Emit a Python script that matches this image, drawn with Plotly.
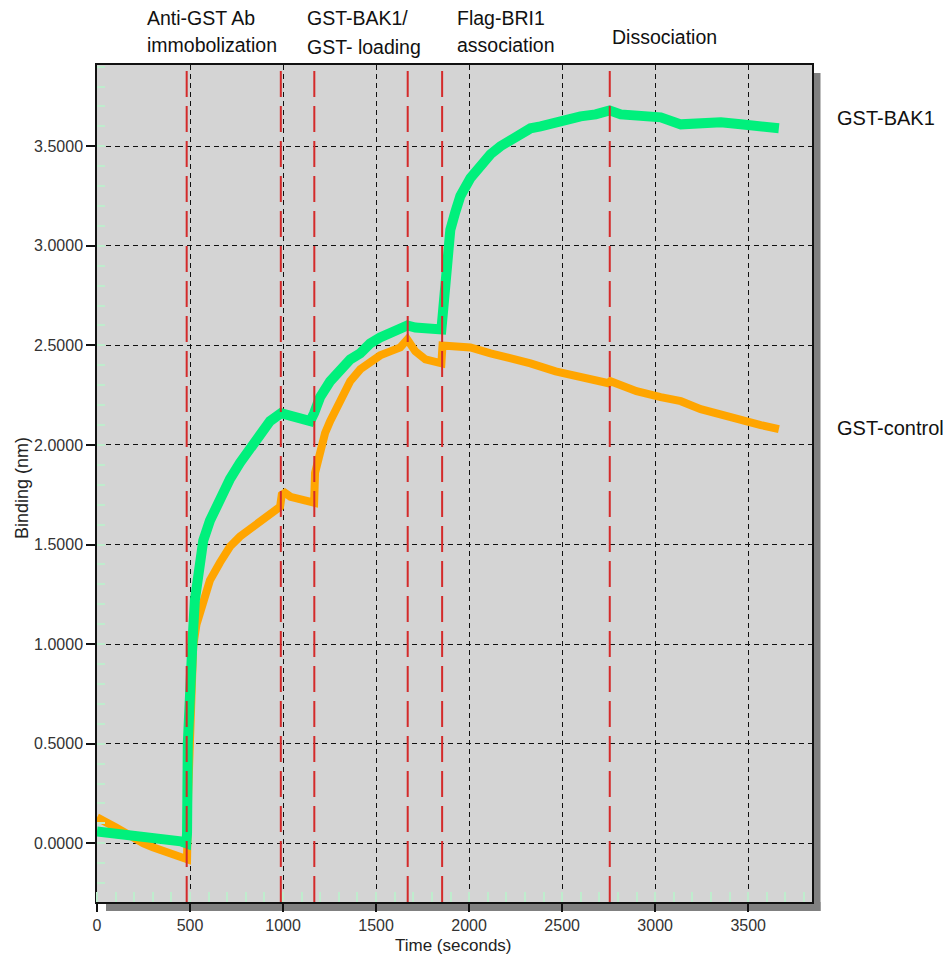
import plotly.graph_objects as go

# ---------------- data ----------------
bak1_t = [0, 50, 100, 150, 200, 250, 300, 350, 400, 450, 480, 484, 488, 495, 505, 513, 526, 544,
          571, 607, 661, 715, 768, 822, 876, 930, 989, 1038, 1092, 1146, 1167, 1199, 1253, 1307,
          1361, 1415, 1468, 1522, 1576, 1630, 1668, 1711, 1765, 1819, 1851, 1855, 1862, 1872, 1883,
          1899, 1926, 1953, 2007, 2061, 2115, 2168, 2222, 2276, 2330, 2384, 2465, 2518, 2599, 2680,
          2755, 2815, 2922, 3030, 3138, 3245, 3353, 3460, 3568, 3648, 3665]
bak1_v = [0.06, 0.055, 0.05, 0.045, 0.035, 0.035, 0.03, 0.03, 0.02, 0.01, 0.0, 0.05, 0.5, 0.8, 0.95,
          1.01, 1.22, 1.36, 1.52, 1.62, 1.74, 1.83, 1.91, 1.98, 2.06, 2.12, 2.16, 2.15, 2.14, 2.12,
          2.16, 2.24, 2.32, 2.37, 2.43, 2.46, 2.51, 2.54, 2.56, 2.58, 2.60, 2.59, 2.59, 2.58, 2.58,
          2.62, 2.71, 2.89, 2.99, 3.08, 3.17, 3.25, 3.34, 3.41, 3.46, 3.50, 3.53, 3.57, 3.59, 3.60,
          3.62, 3.64, 3.65, 3.66, 3.68, 3.66, 3.65, 3.645, 3.61, 3.62, 3.62, 3.61, 3.605, 3.60, 3.59]

ctrl_t = [0, 30, 60, 100, 150, 200, 250, 300, 350, 400, 450, 478, 484, 490, 499, 508, 517, 535,
          571, 607, 661, 715, 768, 822, 876, 930, 984, 993, 1010, 1040, 1092, 1146, 1167, 1172,
          1199, 1226, 1253, 1307, 1361, 1415, 1468, 1522, 1576, 1630, 1668, 1690, 1711, 1765,
          1819, 1851, 1857, 1900, 2007, 2115, 2222, 2330, 2465, 2599, 2680, 2750, 2760, 2900,
          3030, 3138, 3245, 3353, 3460, 3568, 3665]
ctrl_v = [0.13, 0.12, 0.10, 0.08, 0.05, 0.02, 0.0, -0.02, -0.035, -0.05, -0.065, -0.08, -0.08,
          0.25, 0.52, 0.82, 0.99, 1.10, 1.22, 1.32, 1.41, 1.49, 1.54, 1.58, 1.61, 1.65, 1.69, 1.75,
          1.76, 1.74, 1.73, 1.72, 1.71, 1.86, 1.97, 2.06, 2.12, 2.23, 2.32, 2.38, 2.42, 2.45, 2.47,
          2.49, 2.53, 2.49, 2.47, 2.43, 2.42, 2.41, 2.50, 2.50, 2.49, 2.46, 2.44, 2.41, 2.37, 2.34,
          2.325, 2.31, 2.32, 2.27, 2.24, 2.22, 2.18, 2.15, 2.12, 2.10, 2.08]

step_times = [482, 988, 1168, 1670, 1855, 2756]

y_ticks = [0.0, 0.5, 1.0, 1.5, 2.0, 2.5, 3.0, 3.5]
x_ticks = [0, 500, 1000, 1500, 2000, 2500, 3000, 3500]

phase_labels = [
    ("Anti-GST Ab", 145, 18), ("immobolization", 145, 45),
    ("GST-BAK1/", 305, 18), ("GST- loading", 305, 47),
    ("Flag-BRI1", 455, 18), ("association", 455, 45),
    ("Dissociation", 610, 37),
]
series_labels = [("GST-BAK1", 835, 118), ("GST-control", 835, 428)]

# ---------------- layout geometry (screen pixels; page body has an 8px margin) ----------------
OFF = 8
W, H = 951 - OFF, 957 - OFF
L, R, T, B = 97, 812, 65, 902          # plot frame in screen pixels
pw, ph = R - L, B - T

def px(X):
    return (X - L) / pw

def py(Y):
    return (B - Y) / ph

FONT = "Arial, Liberation Sans, Helvetica, sans-serif"

fig = go.Figure()
fig.add_trace(go.Scatter(x=ctrl_t, y=ctrl_v, mode="lines", name="GST-control",
                         line=dict(color="#ffa500", width=8)))
fig.add_trace(go.Scatter(x=bak1_t, y=bak1_v, mode="lines", name="GST-BAK1",
                         line=dict(color="#00f07c", width=10)))

shapes = []
# drop shadow of the plot frame
shapes.append(dict(type="rect", xref="paper", yref="paper", x0=px(106), x1=px(820.5),
                   y0=py(911), y1=py(902), fillcolor="#808080", line=dict(width=0), layer="below"))
shapes.append(dict(type="rect", xref="paper", yref="paper", x0=px(812), x1=px(820.5),
                   y0=py(911), y1=py(73), fillcolor="#808080", line=dict(width=0), layer="below"))
for t in step_times:
    shapes.append(dict(type="line", xref="x", yref="paper", x0=t, x1=t, y0=0, y1=1,
                       line=dict(color="#d42a2a", width=2, dash="26px,9px"), layer="above"))

annotations = []
for txt, X, Y in phase_labels:
    annotations.append(dict(text=txt, xref="paper", yref="paper", x=px(X), y=py(Y),
                            xanchor="left", yanchor="middle", showarrow=False,
                            font=dict(family=FONT, size=19.5, color="#111111")))
for txt, X, Y in series_labels:
    annotations.append(dict(text=txt, xref="paper", yref="paper", x=px(X), y=py(Y),
                            xanchor="left", yanchor="middle", showarrow=False,
                            font=dict(family=FONT, size=20, color="#111111")))
# axis titles
annotations.append(dict(text="Time (seconds)", xref="paper", yref="paper", x=px(453), y=py(946),
                        xanchor="center", yanchor="middle", showarrow=False,
                        font=dict(family=FONT, size=17, color="#222222")))
annotations.append(dict(text="Binding (nm)", xref="paper", yref="paper", x=px(22), y=py(488),
                        xanchor="center", yanchor="middle", showarrow=False, textangle=-90,
                        font=dict(family=FONT, size=18, color="#222222")))

fig.update_layout(
    width=W, height=H,
    margin=dict(l=L - OFF, r=W - (R - OFF), t=T - OFF, b=H - (B - OFF), autoexpand=False),
    paper_bgcolor="white", plot_bgcolor="#d4d4d4",
    showlegend=False,
    font=dict(family=FONT, color="#333333"),
    shapes=shapes, annotations=annotations,
)
fig.update_xaxes(
    range=[0, 3843], tickvals=x_ticks, ticktext=[str(v) for v in x_ticks],
    automargin=False,
    showline=True, linecolor="#111111", linewidth=1.5, mirror=True,
    ticks="outside", ticklen=8, tickcolor="#111111", tickwidth=1.5,
    tickfont=dict(size=16, color="#333333"),
    showgrid=True, gridcolor="#111111", gridwidth=1.4, griddash="5px,4px",
    zeroline=False,
    minor=dict(ticks="inside", ticklen=10, tickcolor="#bfeccd", tickwidth=1.5, dtick=100, tick0=0, showgrid=False),
)
fig.update_yaxes(
    range=[-0.2948, 3.908], tickvals=y_ticks, ticktext=["%.4f" % v for v in y_ticks],
    automargin=False,
    showline=True, linecolor="#111111", linewidth=1.5, mirror=True,
    ticks="outside", ticklen=9, tickcolor="#111111", tickwidth=1.5,
    tickfont=dict(size=16, color="#333333"),
    showgrid=True, gridcolor="#111111", gridwidth=1.4, griddash="5px,4px",
    zeroline=False,
    minor=dict(ticks="inside", ticklen=8, tickcolor="#bfeccd", tickwidth=1.5, dtick=0.1, tick0=0, showgrid=False),
)

fig.write_html("out.html")
